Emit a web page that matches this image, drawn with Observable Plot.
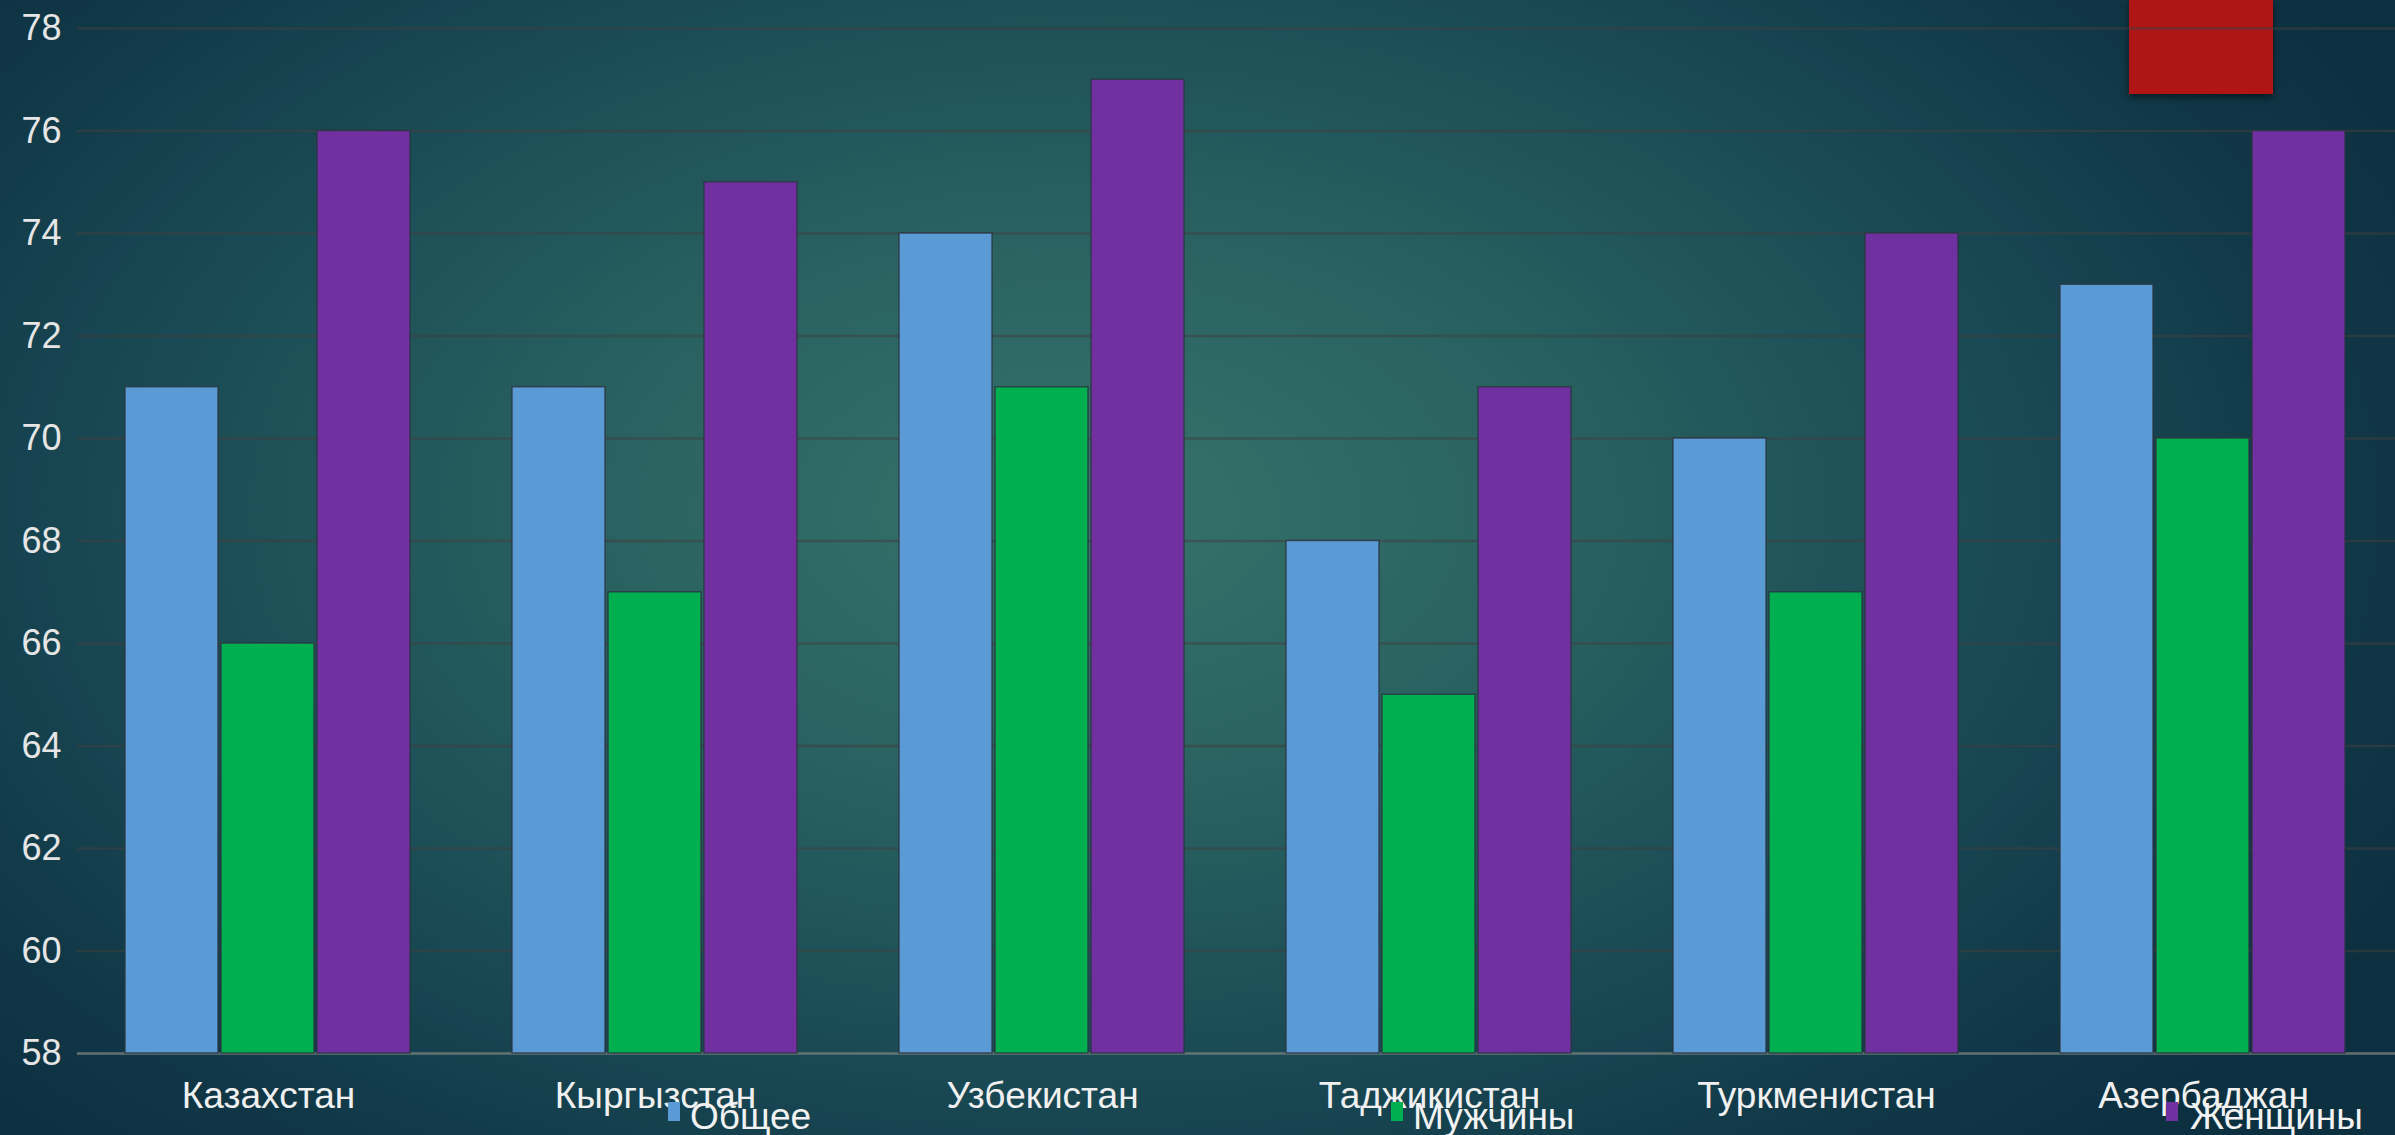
<!DOCTYPE html>
<html>
<head>
<meta charset="utf-8">
<script src="https://cdn.jsdelivr.net/npm/d3@7"></script>
<script src="https://cdn.jsdelivr.net/npm/@observablehq/plot@0.6"></script>
<style>
  html, body { margin: 0; padding: 0; }
  body { width: 2395px; height: 1135px; overflow: hidden; }
  #wrap {
    position: relative; width: 2395px; height: 1135px; overflow: hidden;
    background: radial-gradient(ellipse 62% 78% at 45% 45%, #37736c 0%, #2a6361 30%, #1a4b55 62%, #113847 85%, #0d3040 100%);
    font-family: "Liberation Sans", Arial, sans-serif;
  }
  #wrap > svg { position: absolute; left: 0; top: 0; }
  #redbox {
    position: absolute; left: 2129px; top: 0; width: 144px; height: 94px;
    background: #b01515; box-shadow: 0 3px 7px rgba(0,0,0,0.55);
  }
  .leg { position: absolute; top: 1098px; font-size: 37px; line-height: 1; color: #f2f2f2; white-space: nowrap; }
  .sw { position: absolute; top: 1102px; width: 12px; height: 19px; }
</style>
</head>
<body>
<div id="wrap"><div id="redbox"></div></div>
<script>
const countries = ["Казахстан", "Кыргызстан", "Узбекистан", "Таджикистан", "Туркменистан", "Азербаджан"];
const series = ["Общее", "Мужчины", "Женщины"];
const colors = ["#5b9bd5", "#00b050", "#7030a0"];
const total = [71, 71, 74, 68, 70, 73];
const men = [66, 67, 71, 65, 67, 70];
const women = [76, 75, 77, 71, 74, 76];
const yTicks = [58, 60, 62, 64, 66, 68, 70, 72, 74, 76, 78];

const values = [total, men, women];
const rows = [];
countries.forEach((c, i) => series.forEach((s, j) => rows.push({country: c, series: s, value: values[j][i]})));

const W = 2395, H = 1135;
const margins = {marginTop: 28, marginBottom: 82, marginLeft: 77, marginRight: 0};
const yDomain = [yTicks[0], yTicks[yTicks.length - 1]];
const font = '"Liberation Sans", Arial, sans-serif';

const wrap = document.getElementById("wrap");

// grid + y axis layer
const gridPlot = Plot.plot({
  width: W, height: H, ...margins,
  style: {background: "transparent", fontFamily: font, fontSize: "36px", color: "#e6e6e6", overflow: "visible"},
  x: {axis: null},
  y: {domain: yDomain, ticks: yTicks, label: null, tickSize: 0, tickPadding: 16},
  marks: [
    Plot.ruleY(yTicks.slice(1), {stroke: "#404040", strokeOpacity: 0.55, strokeWidth: 2.5}),
    Plot.ruleY(yTicks.slice(0, 1), {stroke: "#6b7878", strokeOpacity: 0.9, strokeWidth: 2.5})
  ]
});
wrap.appendChild(gridPlot);

// bars layer
const barPlot = Plot.plot({
  width: W, height: H, ...margins,
  style: {background: "transparent", fontFamily: font, fontSize: "37px", color: "#f0f0f0", overflow: "visible"},
  fx: {domain: countries, paddingInner: 0.26, paddingOuter: 0.124, label: null, tickSize: 0, tickPadding: 28},
  x: {domain: series, paddingInner: 0.03, paddingOuter: 0, axis: null},
  y: {domain: yDomain, axis: null},
  color: {domain: series, range: colors},
  marks: [
    Plot.barY(rows, {fx: "country", x: "series", y1: yDomain[0], y2: "value", fill: "series",
      stroke: "#2a3440", strokeWidth: 1.5, strokeOpacity: 0.8})
  ]
});
wrap.appendChild(barPlot);

// legend (overlapping the category labels as in the reference)
const legendX = [[668, 690], [1391, 1413], [2166, 2190]];
series.forEach((s, i) => {
  const sw = document.createElement("div");
  sw.className = "sw";
  sw.style.left = legendX[i][0] + "px";
  sw.style.background = colors[i];
  wrap.appendChild(sw);
  const t = document.createElement("div");
  t.className = "leg";
  t.style.left = legendX[i][1] + "px";
  t.textContent = s;
  wrap.appendChild(t);
});
</script>
</body>
</html>
